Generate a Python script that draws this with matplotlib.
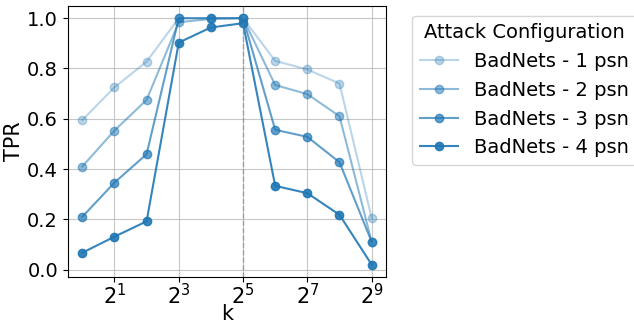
import matplotlib
matplotlib.use("Agg")
import matplotlib.pyplot as plt

k = [1, 2, 4, 8, 16, 32, 64, 128, 256, 512]
labels = ["BadNets - 1 psn", "BadNets - 2 psn", "BadNets - 3 psn", "BadNets - 4 psn"]
tpr_1 = [0.595, 0.725, 0.827, 1.0, 1.0, 1.0, 0.830, 0.796, 0.740, 0.206]
tpr_2 = [0.410, 0.553, 0.675, 0.984, 0.997, 1.0, 0.734, 0.698, 0.610, 0.111]
tpr_3 = [0.210, 0.346, 0.459, 1.0, 1.0, 1.0, 0.556, 0.528, 0.427, 0.111]
tpr_4 = [0.067, 0.131, 0.192, 0.903, 0.963, 0.980, 0.333, 0.304, 0.218, 0.020]
series = [tpr_1, tpr_2, tpr_3, tpr_4]
alphas = [0.3, 0.5, 0.7, 0.9]
xticks = [2, 8, 32, 128, 512]
xticklabels = [r"$2^1$", r"$2^3$", r"$2^5$", r"$2^7$", r"$2^9$"]

plt.rcParams['font.size'] = 14
fig = plt.figure(figsize=(6.34, 3.25), dpi=100)
ax = fig.add_axes([0.107, 0.148, 0.502, 0.834])

for lab, vals, a in zip(labels, series, alphas):
    ax.plot(k, vals, marker='o', color='#1f77b4', alpha=a, label=lab, markersize=6, linewidth=1.5)

ax.axvline(32, color='gray', linestyle='--', alpha=0.6, linewidth=1)
ax.set_xscale('log', base=2)
ax.set_xticks(xticks)
ax.set_xticklabels(xticklabels, fontsize=15)
ax.minorticks_off()
ax.set_yticks([0.0, 0.2, 0.4, 0.6, 0.8, 1.0])
ax.tick_params(axis='x', pad=1)
ax.grid(True, color='#b0b0b0', alpha=0.7)
ax.set_xlabel('k', fontsize=15, labelpad=-3)
ax.set_ylabel('TPR', fontsize=15, labelpad=2)
ax.legend(title='Attack Configuration', bbox_to_anchor=(1.05, 1), loc='upper left')

fig.savefig('out.png', dpi=100)
